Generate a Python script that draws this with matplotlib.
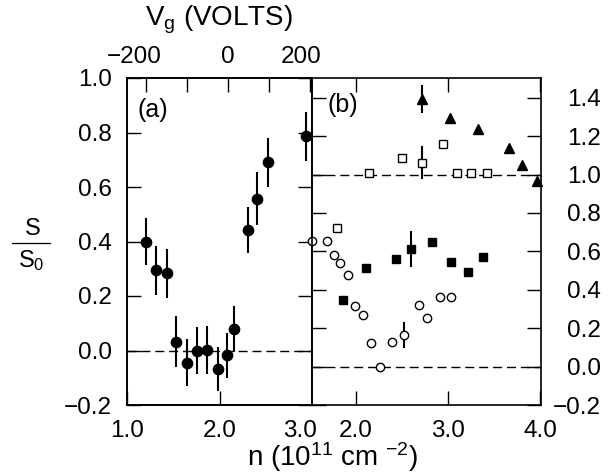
import numpy as np
import matplotlib
matplotlib.use('Agg')
import matplotlib.pyplot as plt
import matplotlib.ticker as ticker
import matplotlib.transforms as mtransforms
from matplotlib.lines import Line2D

# ── data ──────────────────────────────────────────────────────────────────
# panel (a): filled circles with error bars
a_n   = [1.20, 1.31, 1.43, 1.53, 1.65, 1.76, 1.87, 1.98, 2.08, 2.16, 2.31, 2.41, 2.52, 2.94]
a_s   = [0.400, 0.295, 0.283, 0.032, -0.045, 0.000, 0.002, -0.068, -0.018, 0.079,
         0.442, 0.557, 0.690, 0.786]
a_err = [0.087, 0.090, 0.090, 0.093, 0.086, 0.088, 0.088, 0.080, 0.083, 0.085,
         0.084, 0.097, 0.089, 0.090]

# panel (b): open circles
oc_n   = [1.52, 1.69, 1.757, 1.83, 1.91, 1.99, 2.076, 2.16, 2.257, 2.39, 2.525,
          2.68, 2.77, 2.91, 3.03]
oc_s   = [0.654, 0.656, 0.581, 0.540, 0.477, 0.318, 0.270, 0.125, 0.000, 0.127,
          0.165, 0.320, 0.255, 0.360, 0.364]
oc_err = [0, 0, 0, 0, 0, 0, 0, 0, 0, 0, 0.068, 0, 0, 0, 0]

# panel (b): filled squares
fs_n   = [1.86, 2.11, 2.43, 2.60, 2.83, 3.03, 3.22, 3.38]
fs_s   = [0.345, 0.512, 0.559, 0.611, 0.651, 0.545, 0.495, 0.571]
fs_err = [0, 0, 0, 0.094, 0, 0, 0, 0]

# panel (b): open squares
os_n   = [1.79, 2.14, 2.50, 2.72, 2.94, 3.10, 3.25, 3.42]
os_s   = [0.724, 1.008, 1.085, 1.062, 1.160, 1.008, 1.008, 1.008]
os_err = [0, 0, 0, 0.087, 0, 0, 0, 0]

# panel (b): filled triangles
ft_n   = [2.72, 3.025, 3.33, 3.66, 3.80, 3.97]
ft_s   = [1.394, 1.293, 1.238, 1.137, 1.050, 0.964]
ft_err = [0.074, 0, 0, 0, 0, 0]

a_xticks = [1.0, 2.0, 3.0]
b_xticks = [2.0, 3.0, 4.0]
a_yticks = [-0.2, 0.0, 0.2, 0.4, 0.6, 0.8, 1.0]
b_yticks = [-0.2, 0.0, 0.2, 0.4, 0.6, 0.8, 1.0, 1.2, 1.4]
vg_ticks  = [-200, -100, 0, 100, 200]
vg_labels = ['\u2212200', '', '0', '', '200']

# Vg <-> n mapping of the top axis
N0, K = 2.092, 225.4

FS     = 17.5   # tick labels
FS_LAB = 20     # axis titles
W, H = 609, 475

plt.rcParams.update({
    'font.family'      : 'Liberation Sans',
    'mathtext.fontset' : 'custom',
    'mathtext.rm'      : 'Liberation Sans',
    'mathtext.it'      : 'Liberation Sans',
    'mathtext.default' : 'regular',
    'font.size'        : FS,
    'axes.linewidth'   : 1.2,
    'text.color'       : 'black',
})

fig = plt.figure(figsize=(W / 100, H / 100), dpi=100)
fig.patch.set_facecolor('white')

ax_a = fig.add_axes([127 / W, 70 / H, 185 / W, 327 / H])
ax_b = fig.add_axes([312 / W, 70 / H, 229 / W, 327 / H])

tick_kw = dict(direction='in', length=10, width=1.0, labelsize=FS, color='black')
DASH = (0, (6.5, 3.5))
fmt1 = ticker.FuncFormatter(lambda v, p: f'{v:.1f}'.replace('-', '\u2212'))

# ── panel (a) ────────────────────────────────────────────────────────────
ax_a.axhline(0.0, color='black', lw=1.0, ls=DASH, zorder=1)
ax_a.errorbar(a_n, a_s, yerr=a_err, fmt='o', ms=7.4, color='black',
              ecolor='black', elinewidth=1.5, capsize=0, zorder=3)
ax_a.set_xlim(1.0, 3.0)
ax_a.set_ylim(-0.2, 1.0)
ax_a.set_xticks(a_xticks)
ax_a.set_yticks(a_yticks)
ax_a.xaxis.set_major_formatter(fmt1)
ax_a.yaxis.set_major_formatter(fmt1)
ax_a.tick_params(axis='both', top=False, right=True, pad=10.8, **tick_kw)
ax_a.text(0.14, 0.902, '(a)', transform=ax_a.transAxes, ha='center',
          va='center', fontsize=18)

# top axis: gate voltage
ax_t = ax_a.twiny()
ax_t.set_xlim((1.0 - N0) * K, (3.0 - N0) * K)
ax_t.set_xticks(vg_ticks)
ax_t.set_xticklabels(vg_labels)
ax_t.tick_params(axis='x', top=True, bottom=False, pad=7.5, **tick_kw)

# ── panel (b) ────────────────────────────────────────────────────────────
ax_b.axhline(1.0, color='black', lw=1.0, ls=DASH, zorder=1)
ax_b.axhline(0.0, color='black', lw=1.0, ls=DASH, zorder=1)


def series(ax, n, s, err, **mk):
    n, s, err = np.asarray(n), np.asarray(s), np.asarray(err)
    m = err > 0
    if m.any():
        ax.errorbar(n[m], s[m], yerr=err[m], fmt='none', ecolor='black',
                    elinewidth=1.5, capsize=0, zorder=2)
    ax.plot(n, s, ls='none', color='black', mec='black', zorder=3,
            clip_on=False, **mk)


series(ax_b, oc_n, oc_s, oc_err, marker='o', ms=6.0, mfc='white', mew=1.0)
series(ax_b, fs_n, fs_s, fs_err, marker='s', ms=6.0, mfc='black', mew=1.0)
series(ax_b, os_n, os_s, os_err, marker='s', ms=5.5, mfc='white', mew=1.0)
series(ax_b, ft_n, ft_s, ft_err, marker='^', ms=6.5, mfc='black', mew=1.0)

ax_b.set_xlim(1.522, 4.01)
ax_b.set_ylim(-0.2, 1.503)
ax_b.set_xticks(b_xticks)
ax_b.set_yticks(b_yticks)
ax_b.xaxis.set_major_formatter(fmt1)
ax_b.yaxis.set_major_formatter(fmt1)
ax_b.tick_params(axis='x', top=True, pad=10.8, **tick_kw)
ax_b.tick_params(axis='y', left=True, right=True, labelleft=False,
                 labelright=True, pad=43, **tick_kw)
for t in ax_b.yaxis.get_major_ticks():
    t.label2.set_horizontalalignment('right')
ax_b.text(0.135, 0.917, '(b)', transform=ax_b.transAxes, ha='center',
          va='center', fontsize=18)


# nudge a few crowded labels left, as in the reference
def nudge(label, dx_px):
    label.set_transform(label.get_transform() +
                        mtransforms.ScaledTranslation(dx_px / 100, 0,
                                                      fig.dpi_scale_trans))


nudge(ax_a.xaxis.get_major_ticks()[2].label1, -12)
top_ticks = ax_t.xaxis.get_major_ticks()
nudge(top_ticks[0].label2, -12)
nudge(top_ticks[4].label2, -9)

# ── axis titles ──────────────────────────────────────────────────────────
fig.text(219 / W, 1 - 20 / H, 'V$_g$ (VOLTS)', ha='center', va='center',
         fontsize=20)
fig.text(333 / W, 1 - 457 / H, 'n (10$^{11}$ cm $^{\u2212 2}$)', ha='center',
         va='center', fontsize=FS_LAB)
fig.text(33 / W, 1 - 229 / H, 'S', ha='center', va='center', fontsize=17)
fig.text(31 / W, 1 - 261 / H, 'S$_0$', ha='center', va='center', fontsize=17)
fig.add_artist(Line2D([12 / W, 50 / W], [1 - 243 / H, 1 - 243 / H],
                      transform=fig.transFigure, color='black', lw=0.9))

fig.savefig('out.png', dpi=100, facecolor='white')
